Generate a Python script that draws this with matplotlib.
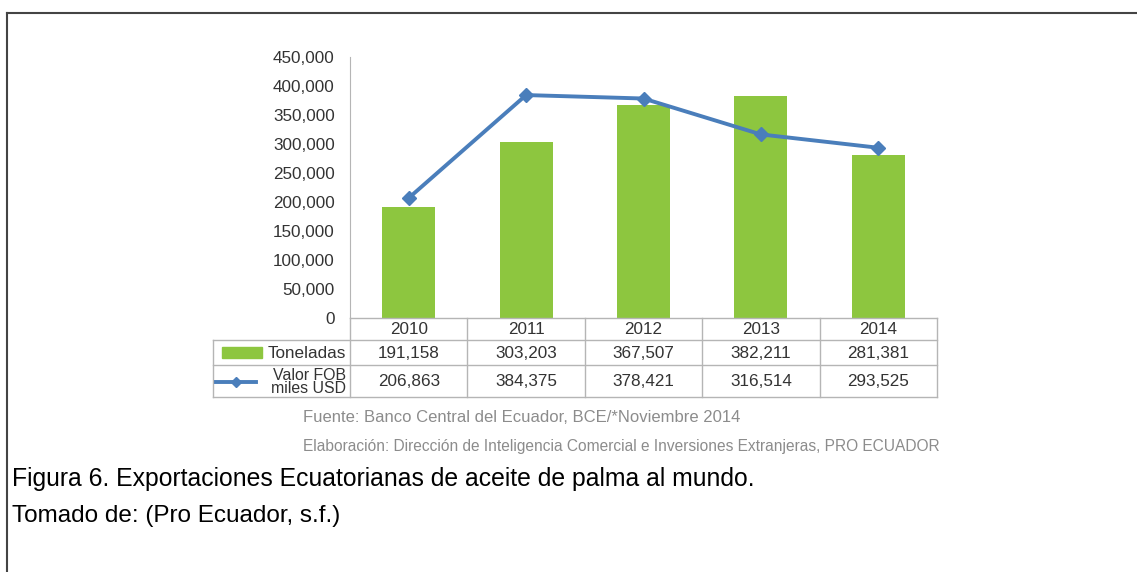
import matplotlib
matplotlib.use("Agg")
import matplotlib.pyplot as plt
from matplotlib.lines import Line2D
from matplotlib.patches import Rectangle

plt.rcParams["font.family"] = ["Liberation Sans", "DejaVu Sans"]

# datos
anios = ["2010", "2011", "2012", "2013", "2014"]
toneladas = [191158, 303203, 367507, 382211, 281381]
valor_fob = [206863, 384375, 378421, 316514, 293525]
y_ticks = [0, 50000, 100000, 150000, 200000, 250000, 300000, 350000, 400000, 450000]

VERDE = "#8DC63F"
AZUL = "#4A7EBB"
GRIS = "#B5B5B5"
TXT = "#333333"
FS = 12.3

W, H = 1137, 572
fig = plt.figure(figsize=(W / 100, H / 100), dpi=100)


def fx(px): return px / W
def fy(py): return 1 - py / H


# marco exterior (solo arriba e izquierda)
fig.add_artist(Line2D([fx(7), fx(7)], [fy(13), 0], color="#444444", lw=1.5))
fig.add_artist(Line2D([fx(7), 1], [fy(13), fy(13)], color="#444444", lw=1.5))

# grafico principal
x0, x1, ytop, ybot = 350, 937, 57, 318
ax = fig.add_axes([fx(x0), fy(ybot), fx(x1 - x0), (ybot - ytop) / H])
xs = range(len(anios))
ax.bar(xs, toneladas, width=0.45, color=VERDE, zorder=2)
ax.plot(xs, valor_fob, color=AZUL, lw=2.8, marker="D", ms=7, zorder=3)
ax.set_xlim(-0.5, len(anios) - 0.5)
ax.set_ylim(0, 450000)
ax.set_yticks(y_ticks)
ax.set_yticklabels([f"{v:,}" for v in y_ticks], fontsize=FS, color=TXT)
ax.tick_params(axis="y", length=0, pad=11)
ax.set_xticks([])
for s in ("top", "right", "bottom"):
    ax.spines[s].set_visible(False)
ax.spines["left"].set_color(GRIS)

# tabla de datos
lx = 213
rows = [318, 340, 365, 397]
ncol = len(anios)
cw = (x1 - x0) / ncol
tab = fig.add_axes([0, 0, 1, 1], facecolor="none")
tab.set_xlim(0, W)
tab.set_ylim(H, 0)
tab.axis("off")
kw = dict(color=GRIS, lw=1)
tab.plot([x0, x1], [rows[0], rows[0]], **kw)
for r in rows[1:]:
    tab.plot([lx, x1], [r, r], **kw)
tab.plot([lx, lx], [rows[1], rows[3]], **kw)
for i in range(ncol + 1):
    tab.plot([x0 + i * cw, x0 + i * cw], [rows[0], rows[3]], **kw)

for i, a in enumerate(anios):
    cx = x0 + (i + 0.5) * cw
    tab.text(cx, (rows[0] + rows[1]) / 2 + 1, a, ha="center", va="center", fontsize=FS, color=TXT)
    tab.text(cx, (rows[1] + rows[2]) / 2 + 1, f"{toneladas[i]:,}", ha="center", va="center",
             fontsize=FS, color=TXT)
    tab.text(cx, (rows[2] + rows[3]) / 2 + 1, f"{valor_fob[i]:,}", ha="center", va="center",
             fontsize=FS, color=TXT)

# leyenda dentro de la tabla
tab.add_patch(Rectangle((222, 347), 40, 11, color=VERDE))
tab.text(346, (rows[1] + rows[2]) / 2 + 1, "Toneladas", ha="right", va="center", fontsize=FS, color=TXT)
tab.plot([216, 256], [382, 382], color=AZUL, lw=2.8)
tab.plot([236], [382], marker="D", ms=5, color=AZUL)
tab.text(346, (rows[2] + rows[3]) / 2 + 1, "Valor FOB\nmiles USD", ha="right", va="center",
         fontsize=11.4, color=TXT, linespacing=0.88)

# fuente
tab.text(303, 418, "Fuente: Banco Central del Ecuador, BCE/*Noviembre 2014", ha="left", va="center",
         fontsize=12, color="#8C8C8C")
tab.text(303, 447, "Elaboración: Dirección de Inteligencia Comercial e Inversiones Extranjeras, PRO ECUADOR",
         ha="left", va="center", fontsize=11.2, color="#8C8C8C")

# pie de figura
tab.text(12, 479, "Figura 6. Exportaciones Ecuatorianas de aceite de palma al mundo.", ha="left",
         va="center", fontsize=17.8, color="black")
tab.text(12, 516, "Tomado de: (Pro Ecuador, s.f.)", ha="left", va="center", fontsize=17.5, color="black")

fig.savefig("out.png", dpi=100)
